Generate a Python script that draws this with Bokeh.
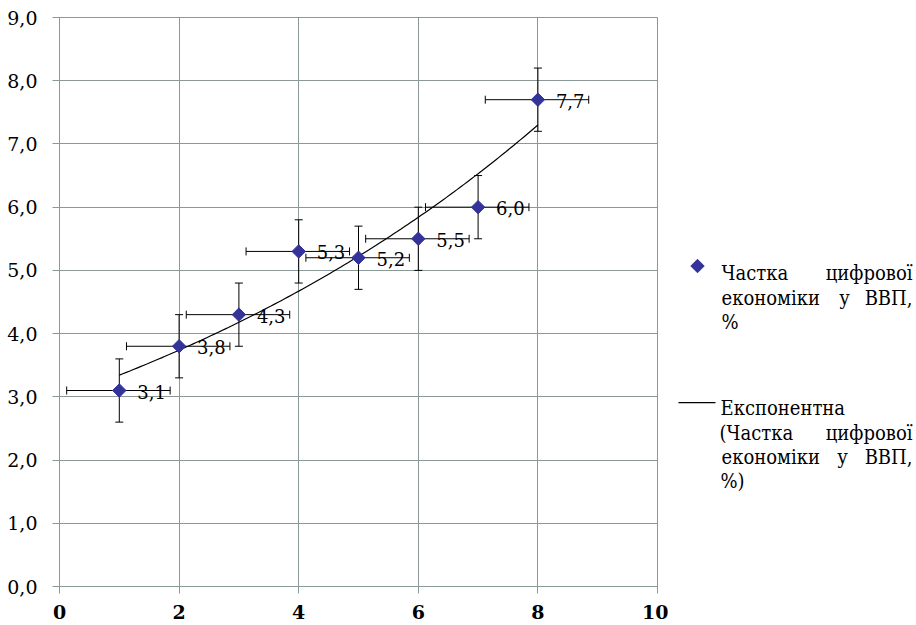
import numpy as np
from bokeh.plotting import figure
from bokeh.models import ColumnDataSource, Whisker, TeeHead, Range1d, FixedTicker
from bokeh.layouts import row
from bokeh.embed import file_html
from bokeh.resources import INLINE
from bokeh.core.properties import value

# ---------------- data ----------------
x_vals = [1, 2, 3, 4, 5, 6, 7, 8]
share = [3.1, 3.8, 4.3, 5.3, 5.2, 5.5, 6.0, 7.7]
share_labels = ["3,1", "3,8", "4,3", "5,3", "5,2", "5,5", "6,0", "7,7"]
y_err = [0.5, 0.5, 0.5, 0.5, 0.5, 0.5, 0.5, 0.5]
x_err_minus = [0.88, 0.88, 0.88, 0.88, 0.88, 0.88, 0.88, 0.88]
x_err_plus = [0.85, 0.85, 0.85, 0.85, 0.85, 0.85, 0.85, 0.85]
x_ticks = [0, 2, 4, 6, 8, 10]
x_tick_labels = ["0", "2", "4", "6", "8", "10"]
y_ticks = [0, 1, 2, 3, 4, 5, 6, 7, 8, 9]
y_tick_labels = ["0,0", "1,0", "2,0", "3,0", "4,0", "5,0", "6,0", "7,0", "8,0", "9,0"]
series_name = "Частка цифрової економіки у ВВП, %"
trend_name = "Експонентна (Частка цифрової економіки у ВВП, %)"

FONT = "DejaVu Serif"
FONT_LEG = "DejaVu Serif Condensed"
GRID = "#8a9898"
MARK = "#333399"

# ---------------- main chart ----------------
p = figure(width=668, height=625, x_range=Range1d(0, 10), y_range=Range1d(0, 9),
           output_backend="svg", toolbar_location=None,
           min_border_left=59, min_border_right=11, min_border_top=17, min_border_bottom=39,
           background_fill_color="white", border_fill_color="white")
p.outline_line_color = GRID

p.xaxis.ticker = FixedTicker(ticks=x_ticks)
p.yaxis.ticker = FixedTicker(ticks=y_ticks)
p.xaxis.major_label_overrides = {t: l for t, l in zip(x_ticks, x_tick_labels)}
p.yaxis.major_label_overrides = {t: l for t, l in zip(y_ticks, y_tick_labels)}
for ax in (p.xaxis, p.yaxis):
    ax.axis_line_color = GRID
    ax.major_tick_line_color = GRID
    ax.major_tick_out = 7
    ax.major_tick_in = 0
    ax.minor_tick_line_color = None
    ax.major_label_text_color = "black"
    ax.major_label_text_font = FONT
p.yaxis.major_label_text_font_size = "19px"
p.xaxis.major_label_text_font_size = "19px"
p.xaxis.major_label_text_font_style = "bold"
p.xaxis.major_label_standoff = 11
p.yaxis.major_label_standoff = 15
p.grid.grid_line_color = GRID
p.grid.grid_line_width = 1

src = ColumnDataSource(dict(
    x=x_vals, y=share, lab=share_labels,
    ylo=[v - e for v, e in zip(share, y_err)], yhi=[v + e for v, e in zip(share, y_err)],
    xlo=[v - e for v, e in zip(x_vals, x_err_minus)], xhi=[v + e for v, e in zip(x_vals, x_err_plus)],
))

p.add_layout(Whisker(source=src, base="x", lower="ylo", upper="yhi", dimension="height",
                     line_color="black", line_width=1,
                     upper_head=TeeHead(size=8, line_color="black", line_width=1),
                     lower_head=TeeHead(size=8, line_color="black", line_width=1)))
p.add_layout(Whisker(source=src, base="y", lower="xlo", upper="xhi", dimension="width",
                     line_color="black", line_width=1,
                     upper_head=TeeHead(size=8, line_color="black", line_width=1),
                     lower_head=TeeHead(size=8, line_color="black", line_width=1)))

# exponential trendline (least squares on ln y, as in the spreadsheet trendline)
b, a = np.polyfit(np.array(x_vals, float), np.log(np.array(share, float)), 1)
xs = np.linspace(min(x_vals), max(x_vals), 120)
p.line(xs, np.exp(a) * np.exp(b * xs), line_color="black", line_width=1.2)

p.scatter("x", "y", source=src, marker="square", angle=np.pi / 4, size=9.5,
          fill_color=MARK, line_color=MARK)
p.text("x", "y", text="lab", source=src, x_offset=18, y_offset=1,
       text_font=value(FONT), text_font_size="18px", text_baseline="alphabetic",
       text_align="left", text_color="black")

# ---------------- legend (justified text as in the original) ----------------
q = figure(width=248, height=625, x_range=Range1d(0, 248), y_range=Range1d(625, 0),
           output_backend="svg", toolbar_location=None, min_border=0,
           x_axis_location=None, y_axis_location=None,
           background_fill_color="white", border_fill_color="white")
q.outline_line_color = None
q.grid.visible = False

q.scatter([29], [273], marker="square", angle=np.pi / 4, size=9.5,
          fill_color=MARK, line_color=MARK)
q.line([10, 47], [423, 423], line_color="black", line_width=1.2)

w1 = series_name.split()
w2 = trend_name.split()
L, R = 53, 244
lay1 = [("left", L, 281), ("right", R, 281),
        ("left", L, 308), ("center", 176, 308), ("right", R, 308),
        ("left", L, 334)]
lay2 = [("left", L - 1, 429),
        ("left", L - 2, 456), ("right", R, 456),
        ("left", L, 483), ("center", 174, 483), ("right", R, 483),
        ("left", L - 1, 509)]
words = w1 + w2
lays = lay1 + lay2
for align in ("left", "center", "right"):
    sel = [(w, lx, ly) for w, (al, lx, ly) in zip(words, lays) if al == align]
    q.text([s[1] for s in sel], [s[2] for s in sel], text=[s[0] for s in sel],
           text_font=value(FONT_LEG), text_font_size="20px", text_baseline="alphabetic",
           text_align=align, text_color="black")

layout = row(p, q)
open("out.html", "w").write(file_html(layout, INLINE))
